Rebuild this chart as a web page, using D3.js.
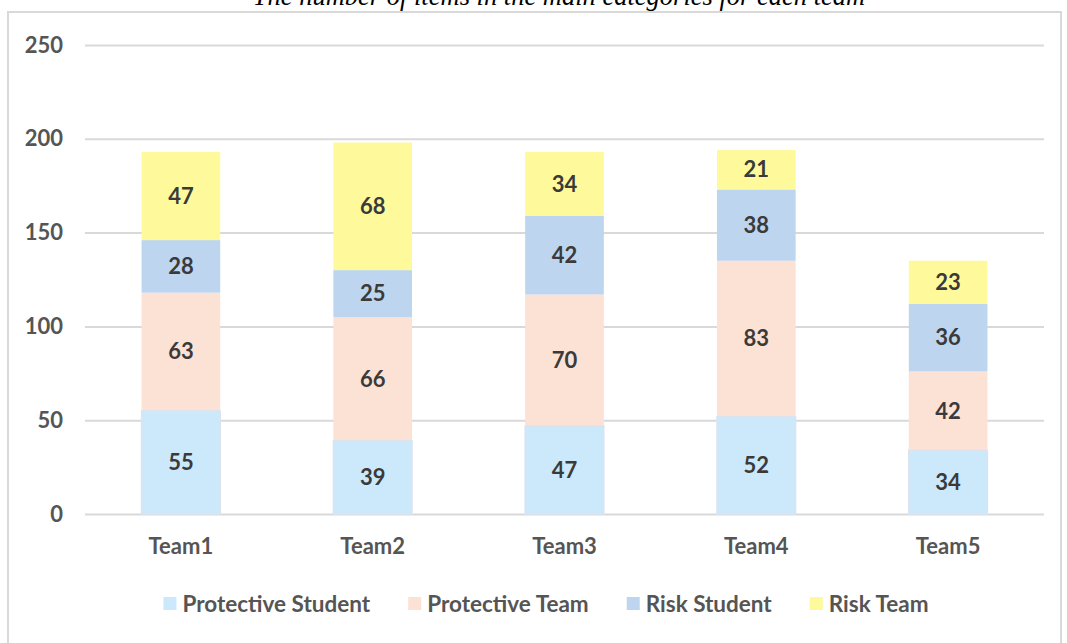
<!DOCTYPE html>
<html><head><meta charset="utf-8">
<script src="https://cdn.jsdelivr.net/npm/d3@7"></script>
<style>body{margin:0;background:#fff}</style>
</head><body>
<svg id="c" width="1067" height="643"></svg>
<script>
const teams = ["Team1","Team2","Team3","Team4","Team5"];
const seriesNames = ["Protective Student","Protective Team","Risk Student","Risk Team"];
const protectiveStudent = [55,39,47,52,34];
const protectiveTeam = [63,66,70,83,42];
const riskStudent = [28,25,42,38,36];
const riskTeam = [47,68,34,21,23];
const yTicks = [0,50,100,150,200,250];
const colors = ["#cbe9fb","#fce1d5","#bdd5ee","#fef99b"];
const titleText = "The number of items in the main categories for each team";

const svg = d3.select("#c");
const W = 1067, H = 643;
const margin = {left:85, right:23, top:45, bottom:129};
const x = d3.scaleBand().domain(teams).range([margin.left, W-margin.right]).paddingInner(0.59).paddingOuter(0.295);
const y = d3.scaleLinear().domain([0,250]).range([514,45]);
const FONT = "Lato, sans-serif";

// border
svg.append("rect").attr("x",8).attr("y",12).attr("width",1053).attr("height",640)
  .attr("fill","none").attr("stroke","#d9d9d9").attr("stroke-width",2);

// title (clipped at top, as in the reference)
svg.append("text").attr("x",559).attr("y",5).attr("text-anchor","middle")
  .attr("font-family","'Liberation Serif', serif").attr("font-style","italic")
  .attr("font-size",26.5).attr("fill","#000").text(titleText);

// grid
const yAxis = d3.axisLeft(y).tickValues(yTicks).tickSize(-(W-margin.left-margin.right)).tickPadding(22);
const g = svg.append("g").attr("transform",`translate(${margin.left},0)`).call(yAxis);
g.select(".domain").remove();
g.selectAll(".tick line").attr("stroke","#d9d9d9").attr("stroke-width",2);
g.selectAll(".tick text").attr("font-family",FONT).attr("font-weight","bold")
  .attr("font-size",22).attr("fill","#555");

// stack
const rows = teams.map((t,i)=>({team:t, "Protective Student":protectiveStudent[i], "Protective Team":protectiveTeam[i], "Risk Student":riskStudent[i], "Risk Team":riskTeam[i]}));
const stack = d3.stack().keys(seriesNames)(rows);
const layers = svg.append("g").selectAll("g").data(stack).join("g").attr("fill",(d,i)=>colors[i]);
layers.selectAll("rect").data(d=>d).join("rect")
  .attr("x",d=>x(d.data.team)).attr("width",x.bandwidth())
  .attr("y",d=>y(d[1])).attr("height",d=>y(d[0])-y(d[1]));
// faint outline on bottom series
svg.append("g").selectAll("rect").data(stack[0]).join("rect")
  .attr("x",d=>x(d.data.team)).attr("width",x.bandwidth())
  .attr("y",d=>y(d[1])).attr("height",d=>y(d[0])-y(d[1]))
  .attr("fill","none").attr("stroke","#dde3ee").attr("stroke-width",1.5);

// labels
svg.append("g").selectAll("g").data(stack).join("g").selectAll("text").data(d=>d).join("text")
  .attr("x",d=>x(d.data.team)+x.bandwidth()/2).attr("y",d=>(y(d[0])+y(d[1]))/2)
  .attr("dy","0.35em").attr("text-anchor","middle")
  .attr("font-family",FONT).attr("font-weight","bold").attr("font-size",22)
  .attr("fill","#3a3a3a").text(d=>d[1]-d[0]);

// x labels
svg.append("g").selectAll("text").data(teams).join("text")
  .attr("x",d=>x(d)+x.bandwidth()/2).attr("y",554).attr("text-anchor","middle")
  .attr("font-family",FONT).attr("font-weight","bold").attr("font-size",22)
  .attr("fill","#555").text(d=>d);

// legend
const lg = svg.append("g");
let cx = 0;
seriesNames.forEach((n,i)=>{
  const it = lg.append("g");
  it.append("rect").attr("width",13).attr("height",13).attr("y",-7).attr("fill",colors[i]);
  const t = it.append("text").attr("x",19).attr("dy","0.35em")
    .attr("font-family",FONT).attr("font-weight","bold").attr("font-size",22.5)
    .attr("fill","#555").text(n);
  const w = 19 + t.node().getComputedTextLength();
  it.attr("transform",`translate(${cx},604)`);
  cx += w + 38;
});
const total = cx - 38;
lg.attr("transform",`translate(${546 - total/2},0)`);
</script>
</body></html>
